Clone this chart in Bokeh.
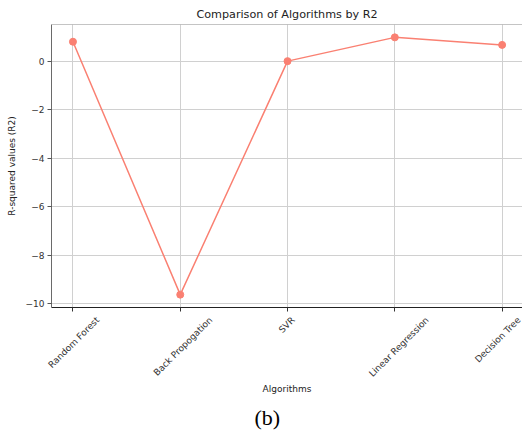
import math
from bokeh.plotting import figure
from bokeh.models import Range1d, FixedTicker, Title, Span
from bokeh.embed import file_html
from bokeh.resources import INLINE

# ---- data ----
algorithms = ["Random Forest", "Back Propogation", "SVR", "Linear Regression", "Decision Tree"]
r2_values = [0.80, -9.63, 0.0, 0.98, 0.67]
y_ticks = [-10, -8, -6, -4, -2, 0]

LINE_COLOR = "#fa8072"
FONT = "DejaVu Sans"
TICK_FS = 9
FIG_W, FIG_H = 522, 434
LEFT = 51
X0, X1 = -0.2, 4.19

idx = list(range(len(algorithms)))
span_v = max(r2_values) - min(r2_values)
y_lo = min(r2_values) - 0.05 * span_v
y_hi = max(r2_values) + 0.05 * span_v

p = figure(width=FIG_W, height=FIG_H, output_backend="svg", toolbar_location=None,
           x_range=Range1d(X0, X1), y_range=Range1d(y_lo, y_hi),
           min_border_left=LEFT, min_border_right=0, min_border_top=24, min_border_bottom=126)
p.background_fill_color = "white"
p.border_fill_color = "white"
p.outline_line_color = None

# title
p.title.text = "Comparison of Algorithms by R2"
p.title.align = "center"
p.title.text_font = FONT
p.title.text_font_size = "11.2px"
p.title.text_font_style = "normal"
p.title.text_color = "#222222"
p.title.standoff = 7

# top spine
p.add_layout(Span(location=y_hi, dimension="width", line_color="#8a8a8a", line_width=1))

# x axis: category ticks as minor ticks, labels on shifted major ticks so that the
# rotated labels are centred on the category position (matplotlib style)
px_per_unit = (FIG_W - LEFT) / (X1 - X0)
c45 = math.cos(math.pi / 4)
label_pos = [min(i + c45 * 0.5 * (0.6 * TICK_FS * len(n)) / px_per_unit, X1 - 0.005)
             for i, n in zip(idx, algorithms)]

xa = p.xaxis[0]
xa.ticker = FixedTicker(ticks=label_pos, minor_ticks=idx)
xa.major_label_overrides = {lp: n for lp, n in zip(label_pos, algorithms)}
xa.major_label_orientation = math.pi / 4
xa.major_label_text_font = FONT
xa.major_label_text_font_size = f"{TICK_FS}px"
xa.major_label_text_color = "#333333"
xa.major_label_standoff = 7
xa.major_tick_line_color = None
xa.major_tick_in = 0
xa.major_tick_out = 4
xa.minor_tick_in = 0
xa.minor_tick_out = 4
xa.minor_tick_line_color = "#333333"
xa.axis_line_color = "#222222"
xa.axis_label = "Algorithms"
xa.axis_label_text_font = FONT
xa.axis_label_text_font_size = f"{TICK_FS}px"
xa.axis_label_text_font_style = "normal"
xa.axis_label_text_color = "#222222"
xa.axis_label_standoff = -1

# y axis
ya = p.yaxis[0]
ya.ticker = FixedTicker(ticks=y_ticks)
ya.major_label_overrides = {t: str(t).replace("-", "\u2212") for t in y_ticks}
ya.major_label_text_font = FONT
ya.major_label_text_font_size = f"{TICK_FS}px"
ya.major_label_text_color = "#333333"
ya.major_label_standoff = 3
ya.minor_tick_line_color = None
ya.major_tick_in = 0
ya.major_tick_out = 4
ya.axis_line_color = "#6a6a6a"
ya.major_tick_line_color = "#555555"
ya.axis_label = "R-squared values (R2)"
ya.axis_label_text_font = FONT
ya.axis_label_text_font_size = f"{TICK_FS}px"
ya.axis_label_text_font_style = "normal"
ya.axis_label_text_color = "#222222"
ya.axis_label_standoff = 6

# grid
p.xgrid.ticker = FixedTicker(ticks=idx)
p.xgrid.grid_line_color = "#d0d0d0"
p.ygrid.grid_line_color = "#d0d0d0"
p.xgrid.grid_line_width = 1
p.ygrid.grid_line_width = 1

# data
p.line(idx, r2_values, line_color=LINE_COLOR, line_width=1.5)
p.scatter(idx, r2_values, size=7, fill_color=LINE_COLOR, line_color=LINE_COLOR)

# caption
p.add_layout(Title(text="(b)", align="left", offset=203, text_font="Liberation Serif",
                   text_font_size="22px", text_font_style="normal", text_color="black",
                   standoff=10), "below")

open("out.html", "w").write(file_html(p, INLINE))
